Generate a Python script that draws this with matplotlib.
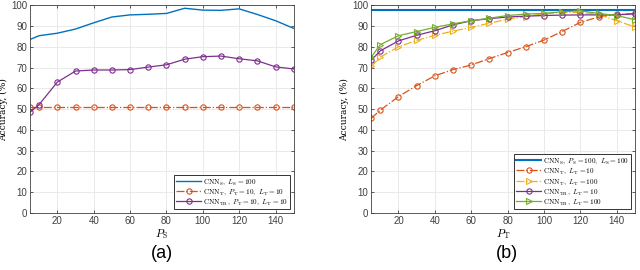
import matplotlib
matplotlib.use('Agg')
import matplotlib.pyplot as plt

plt.rcParams.update({
    'font.family': 'Liberation Sans',
    'mathtext.fontset': 'cm',
    'font.size': 7,
})

# Eixo x comum: P_S (a) e P_T (b)
P = [5, 10, 20, 30, 40, 50, 60, 70, 80, 90, 100, 110, 120, 130, 140, 150]

# (a)
a_cnn_s = [83.5, 85.3, 86.5, 88.5, 91.5, 94.3, 95.3, 95.6, 96.0, 98.5,
           97.6, 97.5, 98.2, 95.5, 92.5, 88.8]
a_cnn_t = [51.0] * 16
a_cnn_tr = [48.5, 52.2, 63.0, 68.3, 68.8, 68.8, 69.0, 70.2, 71.3, 74.0,
            75.2, 75.5, 74.2, 73.2, 70.3, 69.3]

# (b)
b_cnn_s = [97.5] * 16
b_cnn_t_10 = [45.5, 49.5, 56.0, 61.3, 66.0, 69.0, 71.2, 74.3, 77.2, 80.0,
              83.2, 87.3, 91.7, 94.3, 95.5, 96.0]
b_cnn_t_100 = [70.5, 75.0, 80.0, 83.0, 85.5, 87.5, 89.3, 91.3, 93.2, 94.5,
               95.8, 96.5, 96.5, 95.5, 92.5, 89.5]
b_cnn_tr_10 = [73.5, 78.0, 82.8, 85.5, 87.7, 90.5, 92.5, 93.5, 94.3, 94.7,
               95.0, 95.2, 95.3, 95.3, 95.3, 95.8]
b_cnn_tr_100 = [75.0, 81.0, 85.3, 87.3, 89.3, 91.0, 92.5, 93.7, 95.0, 95.7,
                96.0, 96.8, 97.3, 96.0, 95.0, 93.0]

C_BLUE = '#0072BD'
C_ORANGE = '#D95319'
C_YELLOW = '#EDB120'
C_PURPLE = '#7E2F8E'
C_GREEN = '#77AC30'


def style_axes(ax, xlabel):
    ax.set_xlim(5, 150)
    ax.set_ylim(0, 100)
    ax.set_xticks(range(20, 141, 20))
    ax.set_yticks(range(0, 101, 10))
    ax.grid(True, color='#e6e6e6', linewidth=0.6)
    ax.set_axisbelow(True)
    ax.tick_params(direction='in', length=2.5, width=0.6, colors='#404040',
                   labelsize=7, top=True, right=True, pad=2)
    for s in ax.spines.values():
        s.set_color('#404040')
        s.set_linewidth(0.6)
    ax.set_ylabel('Accuracy, (%)', family='DejaVu Serif', fontsize=6.5, labelpad=2)
    ax.set_xlabel(xlabel, fontsize=8, labelpad=1)


def legend(ax):
    leg = ax.legend(loc='lower right', fontsize=5.2, fancybox=False,
                    edgecolor='#333333', framealpha=1, handlelength=3.4,
                    borderpad=0.3, labelspacing=0.1, handletextpad=0.3,
                    borderaxespad=0.5)
    leg.get_frame().set_linewidth(0.7)


fig = plt.figure(figsize=(6.4, 2.7), dpi=100)
ax1 = fig.add_axes([0.047, 0.211, 0.412, 0.770])
ax2 = fig.add_axes([0.580, 0.211, 0.412, 0.770])

mk = dict(markersize=3.8, markerfacecolor='none', markeredgewidth=0.8)

ax1.plot(P, a_cnn_s, color=C_BLUE, lw=1.0, label=r'$\mathrm{CNN_S},\ L_\mathrm{S}=100$')
ax1.plot(P, a_cnn_t, color=C_ORANGE, lw=0.9, ls='-.', marker='o', **mk,
         label=r'$\mathrm{CNN_T},\ P_\mathrm{T}=10,\ L_\mathrm{T}=10$')
ax1.plot(P, a_cnn_tr, color=C_PURPLE, lw=0.9, marker='o', **mk,
         label=r'$\mathrm{CNN_{TR}},\ P_\mathrm{T}=10,\ L_\mathrm{T}=10$')
style_axes(ax1, r'$P_\mathrm{S}$')
legend(ax1)

ax2.plot(P, b_cnn_s, color=C_BLUE, lw=1.5,
         label=r'$\mathrm{CNN_S},\ P_\mathrm{S}=100,\ L_\mathrm{S}=100$')
ax2.plot(P, b_cnn_t_10, color=C_ORANGE, lw=0.9, ls='-.', marker='o', **mk,
         label=r'$\mathrm{CNN_T},\ L_\mathrm{T}=10$')
ax2.plot(P, b_cnn_t_100, color=C_YELLOW, lw=0.9, ls='-.', marker='>', **mk,
         label=r'$\mathrm{CNN_T},\ L_\mathrm{T}=100$')
ax2.plot(P, b_cnn_tr_10, color=C_PURPLE, lw=0.9, marker='o', **mk,
         label=r'$\mathrm{CNN_{TR}},\ L_\mathrm{T}=10$')
ax2.plot(P, b_cnn_tr_100, color=C_GREEN, lw=0.9, marker='>', **mk,
         label=r'$\mathrm{CNN_{TR}},\ L_\mathrm{T}=100$')
style_axes(ax2, r'$P_\mathrm{T}$')
legend(ax2)

fig.text(0.253, 0.03, '(a)', ha='center', va='bottom', fontsize=13)
fig.text(0.792, 0.03, '(b)', ha='center', va='bottom', fontsize=13)

fig.savefig('out.png', dpi=100)
